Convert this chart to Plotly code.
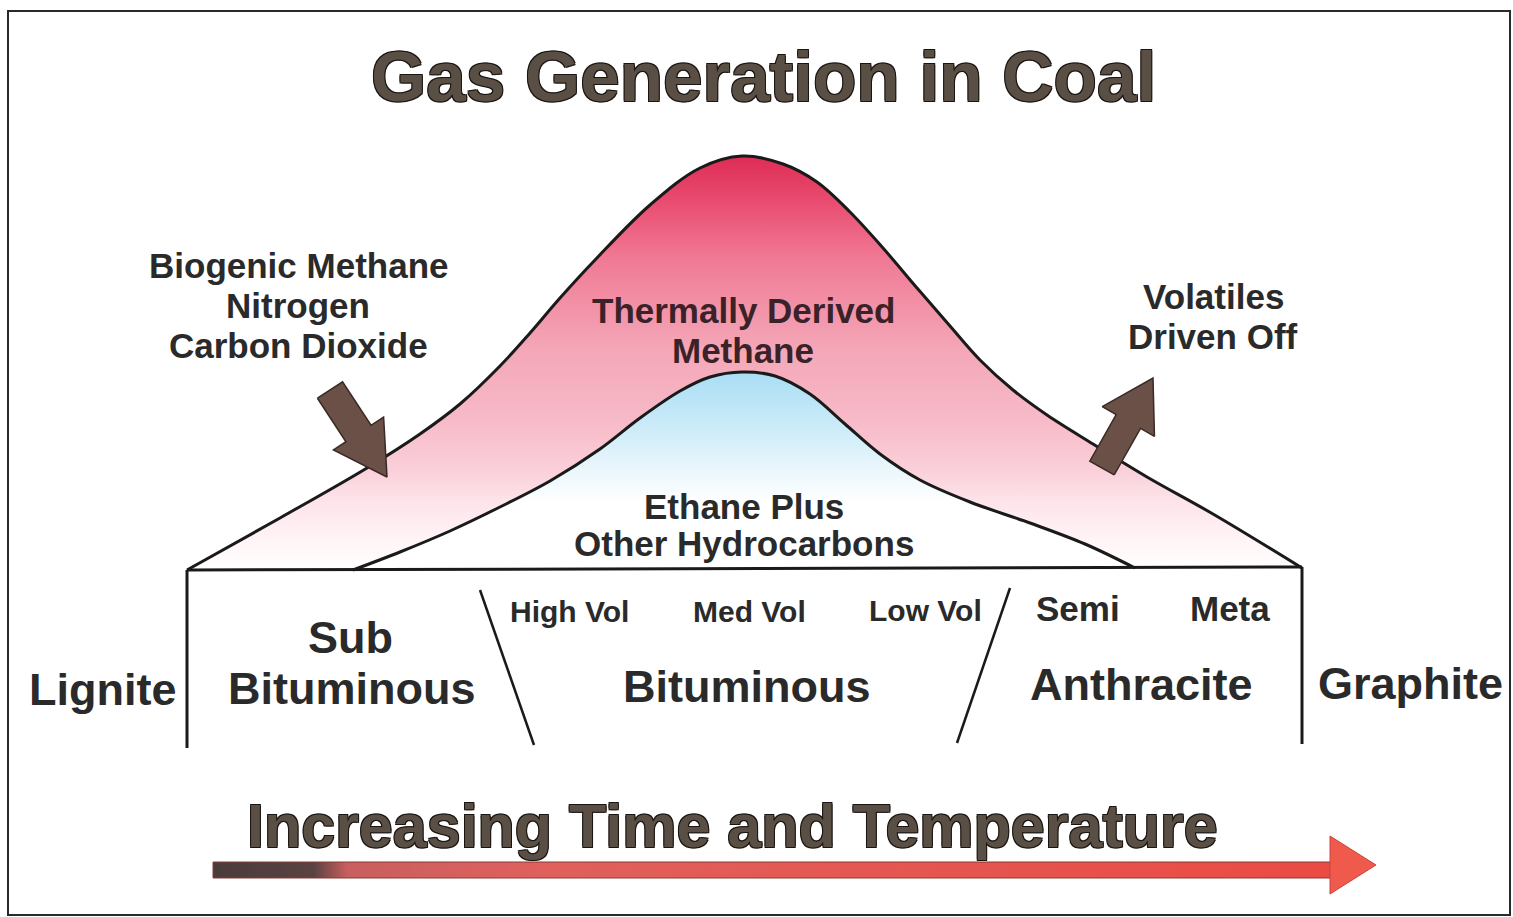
import math
import plotly.graph_objects as go

W, H = 1513, 917

# ---- curve profiles (x in px, y in px from top) ----
outer_x = [187, 280, 367, 420, 460, 500, 530, 560, 595, 650, 700, 742,
           783, 817, 850, 883, 917, 950, 980, 1013, 1047, 1093, 1147, 1213, 1302]
outer_y = [570, 518, 468, 434, 404, 366, 333, 298, 260, 205, 168, 156,
           164, 182, 212, 248, 288, 326, 360, 390, 415, 444, 477, 514, 568]

inner_x = [353, 400, 450, 500, 550, 600, 640, 680, 710, 742, 775, 810, 845, 880,
           920, 970, 1030, 1085, 1135]
inner_y = [570, 552, 531, 507, 481, 449, 418, 391, 377, 372, 376, 394, 424, 454,
           480, 502, 523, 544, 568]

base_y = 570
box_x = [187, 1302]
box_bottom = [748, 744]
divider_top = [(480, 590), (1010, 588)]
divider_bottom = [(534, 745), (957, 743)]

# ---- labels ----
title = "Gas Generation in Coal"
axis_label = "Increasing Time and Temperature"
left_note = ["Biogenic Methane", "Nitrogen", "Carbon Dioxide"]
right_note = ["Volatiles", "Driven Off"]
thermal = ["Thermally Derived", "Methane"]
ethane = ["Ethane Plus", "Other Hydrocarbons"]
ranks = ["Lignite", "Bituminous", "Anthracite", "Graphite"]
sub_ranks = ["High Vol", "Med Vol", "Low Vol", "Semi", "Meta"]

FONT = "Liberation Sans, Arial, sans-serif"

fig = go.Figure()

# pink region (thermally derived methane)
fig.add_trace(go.Scatter(
    x=outer_x, y=outer_y, mode="lines", line=dict(width=0, shape="spline", smoothing=1.0),
    fill="toself", fillcolor="rgba(0,0,0,0)",
    fillgradient=dict(type="vertical", colorscale=[
        [0.0, "#ffffff"], [0.072, "#fff4f6"], [0.17, "#fde3e9"], [0.24, "#fad0da"],
        [0.36, "#f7bac8"], [0.53, "#f4a7b8"], [0.75, "#f07a95"], [0.89, "#e94c70"],
        [1.0, "#de2c56"]]),
    hoverinfo="skip"))

# blue region (ethane plus)
fig.add_trace(go.Scatter(
    x=inner_x, y=inner_y, mode="lines", line=dict(width=0, shape="spline", smoothing=1.0),
    fill="toself", fillcolor="rgba(0,0,0,0)",
    fillgradient=dict(type="vertical", colorscale=[
        [0.0, "#ffffff"], [0.34, "#ffffff"], [0.5, "#ebf7fc"], [0.75, "#c8eaf8"],
        [1.0, "#a9ddf4"]]),
    hoverinfo="skip"))

# outlines
for xs, ys in [(outer_x, outer_y), (inner_x, inner_y)]:
    fig.add_trace(go.Scatter(x=xs, y=ys, mode="lines",
                             line=dict(color="#1a1a1a", width=3, shape="spline", smoothing=1.0),
                             hoverinfo="skip"))

# box lines
line_style = dict(color="#1a1a1a", width=3)
fig.add_trace(go.Scatter(x=[box_x[0], box_x[1]], y=[base_y, base_y - 3], mode="lines",
                         line=line_style, hoverinfo="skip"))
fig.add_trace(go.Scatter(x=[box_x[0], box_x[0]], y=[base_y, box_bottom[0]], mode="lines",
                         line=line_style, hoverinfo="skip"))
fig.add_trace(go.Scatter(x=[box_x[1], box_x[1]], y=[base_y - 3, box_bottom[1]], mode="lines",
                         line=line_style, hoverinfo="skip"))
for (x0, y0), (x1, y1) in zip(divider_top, divider_bottom):
    fig.add_trace(go.Scatter(x=[x0, x1], y=[y0, y1], mode="lines",
                             line=dict(color="#1a1a1a", width=2.5), hoverinfo="skip"))


# brown block arrows
def arrow_poly(tail, tip, sw, hw, hl):
    dx, dy = tip[0] - tail[0], tip[1] - tail[1]
    L = math.hypot(dx, dy)
    ux, uy = dx / L, dy / L
    nx, ny = -uy, ux
    hb = (tip[0] - ux * hl, tip[1] - uy * hl)
    pts = [
        (tail[0] + nx * sw / 2, tail[1] + ny * sw / 2),
        (hb[0] + nx * sw / 2, hb[1] + ny * sw / 2),
        (hb[0] + nx * hw / 2, hb[1] + ny * hw / 2),
        tip,
        (hb[0] - nx * hw / 2, hb[1] - ny * hw / 2),
        (hb[0] - nx * sw / 2, hb[1] - ny * sw / 2),
        (tail[0] - nx * sw / 2, tail[1] - ny * sw / 2),
    ]
    pts.append(pts[0])
    return [p[0] for p in pts], [p[1] for p in pts]


arrows = [((330, 390), (387, 477), 30, 60, 52), ((1102, 468), (1153, 378), 28, 60, 50)]
for a in arrows:
    ax, ay = arrow_poly(*a)
    fig.add_trace(go.Scatter(x=ax, y=ay, mode="lines", fill="toself", fillcolor="#6b5048",
                             line=dict(color="#3a2a25", width=1.5), hoverinfo="skip"))

# bottom gradient arrow
shaft_x = [213, 1332, 1332, 213, 213]
shaft_y = [862, 862, 878, 878, 862]
fig.add_trace(go.Scatter(
    x=shaft_x, y=shaft_y, mode="lines", line=dict(color="#8a3a36", width=1),
    fill="toself", fillcolor="rgba(0,0,0,0)",
    fillgradient=dict(type="horizontal", colorscale=[
        [0.0, "#4a3b3b"], [0.09, "#5a4242"], [0.12, "#c85f5e"], [0.3, "#e0605c"], [1.0, "#ea4b43"]]),
    hoverinfo="skip"))
head_x = [1330, 1376, 1330, 1330]
head_y = [836, 865, 894, 836]
fig.add_trace(go.Scatter(x=head_x, y=head_y, mode="lines", fill="toself", fillcolor="#f05a4c",
                         line=dict(color="#c8453c", width=1), hoverinfo="skip"))

# ---- text ----
ann = []


def label(text, x, y, size, color="#2a2a2a", shadow=None):
    f = dict(family=FONT, size=size, color=color, weight="bold")
    if shadow:
        f["shadow"] = shadow
    ann.append(dict(text=text, x=x, y=y, xref="x", yref="y", showarrow=False,
                    xanchor="center", yanchor="middle", font=f))


outline = ("-1px -1px 0 #1b1512, 1px -1px 0 #1b1512, "
           "-1px 1px 0 #1b1512, 1px 1px 0 #1b1512")
label(title, 763, 76, 71, "#5a4f45", outline)
label(axis_label, 732, 826, 61, "#5a4f45", outline)

for t, y in zip(left_note, [265, 305, 345]):
    label(t, 298, y, 35)
for t, y in zip(right_note, [296, 336]):
    label(t, 1213, y, 35)
for t, y in zip(thermal, [310, 350]):
    label(t, 743, y, 35, "#3b2228")
for t, y in zip(ethane, [506, 543]):
    label(t, 744, y, 35)

label("Sub", 350, 637, 45)
label("Bituminous", 351, 688, 45)
for t, x, y in zip(ranks, [102, 746, 1141, 1410], [689, 686, 684, 683]):
    label(t, x, y, 45)
for t, x, y, s in zip(sub_ranks, [569, 749, 925, 1078, 1230], [611, 611, 610, 608, 608],
                      [30, 30, 30, 35, 35]):
    label(t, x, y, s)

fig.update_layout(
    width=W, height=H, margin=dict(l=0, r=0, t=0, b=0),
    paper_bgcolor="white", plot_bgcolor="white", showlegend=False, hovermode=False,
    xaxis=dict(range=[0, W], visible=False, fixedrange=True),
    yaxis=dict(range=[H, 0], visible=False, fixedrange=True),
    annotations=ann,
    shapes=[dict(type="rect", xref="x", yref="y", x0=8, y0=11, x1=1510, y1=915,
                 line=dict(color="#2a2a2a", width=2), layer="below")],
)

fig.write_html("out.html", config={"displayModeBar": False},
               post_script="document.body.style.margin='0';document.body.style.overflow='hidden';")
